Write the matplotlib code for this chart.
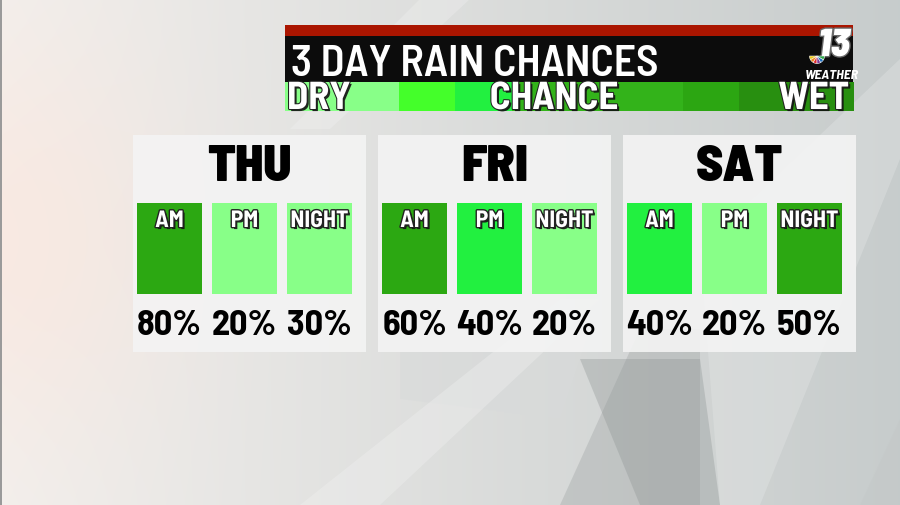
import numpy as np
import matplotlib
matplotlib.use("Agg")
import matplotlib.pyplot as plt
import matplotlib.patheffects as pe
from matplotlib.patches import Rectangle, Polygon, Wedge

# ---- data ----
title = "3 DAY RAIN CHANCES"
days = ["THU", "FRI", "SAT"]
periods = ["AM", "PM", "NIGHT"]
chances = [[80, 20, 30],
           [60, 40, 20],
           [40, 20, 50]]
scale_labels = ["DRY", "CHANCE", "WET"]
scale_colors = ["#88FF88", "#88FF88", "#44FF2A", "#22F040", "#33B31A",
                "#33B31A", "#33B31A", "#2CA612", "#288F10", "#288F10"]

def chance_color(v):
    if v <= 30:
        return "#88FF88"
    if v <= 40:
        return "#22F040"
    return "#2CA812"

FONT = ["Barlow Semi Condensed", "Barlow Condensed", "DejaVu Sans"]
W, H = 900, 506
fig = plt.figure(figsize=(9, 5.06), dpi=100)
ax = fig.add_axes([0, 0, 1, 1])
ax.set_xlim(0, W)
ax.set_ylim(H, 0)
ax.axis("off")

# ---- background ----
yy, xx = np.mgrid[0:H, 0:W]
base_l = np.array([0.95, 0.94, 0.93])
base_r = np.array([0.78, 0.80, 0.80])
t = np.clip(xx / W, 0, 1)[..., None]
img = base_l * (1 - t) + base_r * t
d = np.sqrt(((xx - 10) / 160.0) ** 2 + ((yy - 240) / 200.0) ** 2)[..., None]
glow = np.exp(-d ** 2)
img = img * (1 - 0.6 * glow) + np.array([0.99, 0.90, 0.86]) * 0.6 * glow
img = np.clip(img, 0, 1)
ax.imshow(img, extent=[0, W, H, 0], zorder=0, interpolation="bilinear")

shapes = [
    ([(560, 506), (640, 330), (700, 330), (700, 506)], "#A9ADAD", 0.45),
    ([(400, 330), (590, 330), (560, 420), (400, 400)], "#D8DADA", 0.5),
    ([(580, 360), (700, 360), (720, 506), (640, 506)], "#8E9494", 0.35),
    ([(700, 250), (900, 60), (900, 160), (760, 506), (720, 506)], "#E6E8E8", 0.35),
    ([(300, 506), (560, 300), (600, 300), (380, 506)], "#F2F2F2", 0.35),
    ([(860, 506), (900, 420), (900, 506)], "#C4C8C8", 0.5),
    ([(420, 0), (470, 0), (330, 130), (290, 130)], "#F4F4F4", 0.3),
]
for pts, c, a in shapes:
    ax.add_patch(Polygon(pts, closed=True, facecolor=c, alpha=a,
                         edgecolor="none", zorder=1))
ax.add_patch(Rectangle((0, 0), 2, H, facecolor="#9A9A9A", zorder=2))

# ---- header ----
hx0, hx1 = 285, 853
ax.add_patch(Rectangle((hx0, 26), hx1 - hx0, 11, facecolor="#AA1500", zorder=3))
ax.add_patch(Rectangle((hx0, 37), hx1 - hx0, 46, facecolor="#0C0C0C", zorder=3))
seg_w = (hx1 - hx0) / len(scale_colors)
for i, c in enumerate(scale_colors):
    ax.add_patch(Rectangle((hx0 + i * seg_w, 83), seg_w + 0.5, 29,
                           facecolor=c, zorder=3))

shadow = [pe.withSimplePatchShadow(offset=(1.5, -1.5), shadow_rgbFace="#111111", alpha=0.9),
          pe.withStroke(linewidth=1.5, foreground="#222222")]
ax.text(291, 76, title, color="white", fontsize=31.5, fontweight="semibold",
        family=FONT, ha="left", va="baseline", zorder=5)
ax.text(287, 110, scale_labels[0], color="white", fontsize=28, fontweight="bold",
        family=FONT, ha="left", va="baseline", zorder=5, path_effects=shadow)
ax.text(554, 110, scale_labels[1], color="white", fontsize=28, fontweight="bold",
        family=FONT, ha="center", va="baseline", zorder=5, path_effects=shadow)
ax.text(849, 110, scale_labels[2], color="white", fontsize=28, fontweight="bold",
        family=FONT, ha="right", va="baseline", zorder=5, path_effects=shadow)

# logo
ax.text(834, 57, "13", color="white", fontsize=28, fontweight="black",
        style="italic", family=FONT, ha="center", va="baseline", zorder=6,
        path_effects=[pe.withStroke(linewidth=2, foreground="#6A6A6A")])
ax.text(832, 78.5, "WEATHER", color="white", fontsize=10, fontweight="bold",
        style="italic", family=FONT, ha="center", va="baseline", zorder=6)
pea = ["#E8C81A", "#F08A1A", "#E0262C", "#7A3A96", "#1E6FC0", "#2FA84A"]
for i, c in enumerate(pea):
    ax.add_patch(Wedge((817, 57), 7.5, 180 - (i + 1) * 30, 180 - i * 30,
                       facecolor=c, edgecolor="white", linewidth=0.4, zorder=7))

# ---- day panels ----
px0, pw, pgap = 133, 233, 12
py0, ph = 136, 217
bx_off, bw, bgap = 4, 65, 10
by0, bh = 204, 91
for di, day in enumerate(days):
    px = px0 + di * (pw + pgap)
    ax.add_patch(Rectangle((px, py0), pw, ph, facecolor="#F4F4F4", alpha=0.9,
                           edgecolor="none", zorder=3))
    ax.text(px + pw / 2, 181, day, color="black", fontsize=37, fontweight="black",
            family=FONT, ha="center", va="baseline", zorder=5)
    for pi, per in enumerate(periods):
        v = chances[di][pi]
        bx = px + bx_off + pi * (bw + bgap)
        ax.add_patch(Rectangle((bx, by0), bw, bh, facecolor=chance_color(v),
                               edgecolor="none", zorder=4))
        ax.text(bx + bw / 2, 228, per, color="white", fontsize=17,
                fontweight="bold", family=FONT, ha="center", va="baseline",
                zorder=5, path_effects=[
                    pe.withSimplePatchShadow(offset=(1.5, -1.5), shadow_rgbFace="#111111", alpha=0.9),
                    pe.withStroke(linewidth=2, foreground="#222222")])
        ax.text(bx + bw / 2, 335, f"{v}%", color="black", fontsize=26,
                fontweight="bold", family=FONT, ha="center", va="baseline",
                zorder=5)

fig.savefig("out.png", dpi=100)
